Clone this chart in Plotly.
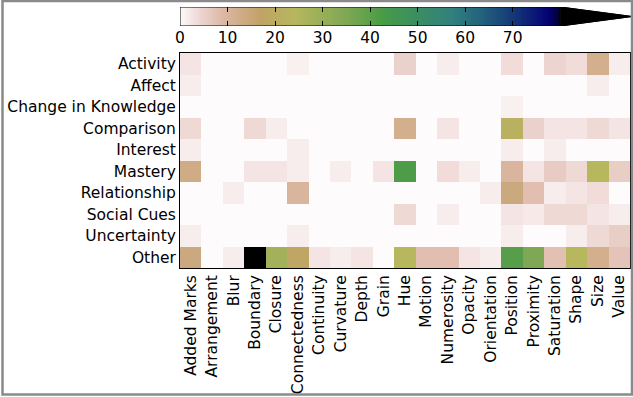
import numpy as np
import plotly.graph_objects as go

# ---------------- data ----------------
rows = ["Activity", "Affect", "Change in Knowledge", "Comparison", "Interest",
        "Mastery", "Relationship", "Social Cues", "Uncertainty", "Other"]
cols = ["Added Marks", "Arrangement", "Blur", "Boundary", "Closure", "Connectedness",
        "Continuity", "Curvature", "Depth", "Grain", "Hue", "Motion", "Numerosity",
        "Opacity", "Orientation", "Position", "Proximity", "Saturation", "Shape",
        "Size", "Value"]

activity      = [2.5, 0, 0, 0, 0, 1.2, 0, 0, 0, 0, 5, 0, 1.5, 0, 0, 3.5, 0, 4.5, 3.5, 12, 1.5]
affect        = [1.5, 0, 0, 0, 0, 0, 0, 0, 0, 0, 0, 0, 0, 0, 0, 0, 0, 0, 0, 1.5, 0]
change_know   = [0, 0, 0, 0, 0, 0, 0, 0, 0, 0, 0, 0, 0, 0, 0, 1.2, 0, 0, 0, 0, 0]
comparison    = [4, 0, 0, 4, 1.5, 0, 0, 0, 0, 0, 12, 0, 2.5, 0, 0, 22, 5, 2.5, 2.5, 4, 2.5]
interest      = [1.5, 0, 0, 0, 0, 1.5, 0, 0, 0, 0, 0, 0, 0, 0, 0, 1.5, 0, 1.5, 0, 0, 0]
mastery       = [13, 0, 0, 2.5, 2.5, 1.5, 0, 1.5, 0, 2.5, 42, 0, 3.5, 1.5, 0, 10, 2.5, 6, 4, 24, 5.5]
relationship  = [0, 0, 1.5, 0, 0, 10, 0, 0, 0, 0, 0, 0, 0, 0, 1.5, 14, 8, 1.5, 2.5, 3.5, 0]
social_cues   = [0, 0, 0, 0, 0, 0, 0, 0, 0, 0, 4, 0, 1.5, 0, 0, 2.5, 2, 4, 4, 2.5, 1.5]
uncertainty   = [1.5, 0, 0, 0, 0, 1.5, 0, 0, 0, 0, 0, 0, 0, 0, 0, 1.5, 0, 0, 1.5, 4, 5.5]
other         = [14, 0, 1.5, 88, 28, 18, 2.5, 1.5, 2.5, 0, 24, 8, 8, 2.5, 1.5, 41, 35, 7.5, 24, 12, 7]

cbar_ticks = [0, 10, 20, 30, 40, 50, 60, 70]
VMIN, VMAX = 0, 80

z = [activity, affect, change_know, comparison, interest,
     mastery, relationship, social_cues, uncertainty, other]

# ---------------- colormap (gist_earth reversed) ----------------
_seg = {
    'r': [(0.0, 0.0), (0.2824, 0.1882), (0.4588, 0.2714), (0.5490, 0.4719),
          (0.6980, 0.7176), (0.7882, 0.7553), (1.0, 0.9922)],
    'g': [(0.0, 0.0), (0.0275, 0.0), (0.1098, 0.1893), (0.1647, 0.3035),
          (0.2078, 0.3841), (0.2824, 0.5020), (0.5216, 0.6397), (0.6980, 0.7171),
          (0.7882, 0.6392), (0.7922, 0.6413), (0.8000, 0.6447), (0.8078, 0.6481),
          (0.8157, 0.6549), (0.8667, 0.6991), (0.8745, 0.7103), (0.8824, 0.7216),
          (0.8902, 0.7323), (0.8980, 0.7430), (0.9412, 0.8275), (0.9569, 0.8635),
          (0.9647, 0.8816), (0.9961, 0.9733), (1.0, 0.9843)],
    'b': [(0.0, 0.0), (0.0039, 0.1684), (0.0078, 0.2212), (0.0275, 0.4329),
          (0.0314, 0.4549), (0.2824, 0.5004), (0.4667, 0.2748), (0.5451, 0.3205),
          (0.7843, 0.3961), (0.8941, 0.6651), (1.0, 0.9843)],
}


def cmap(t):
    s = 1.0 - t
    out = []
    for k in 'rgb':
        xs, ys = zip(*_seg[k])
        out.append(int(round(255 * float(np.interp(s, xs, ys)))))
    return "rgb(%d,%d,%d)" % tuple(out)


N = 256
colorscale = [[i / (N - 1), cmap(i / (N - 1))] for i in range(N)]

FONT = "DejaVu Sans"
FS = 15.5
W, H = 633, 397


def px(x):
    return x / W


def py(y):
    return 1 - y / H


fig = go.Figure()

# main heatmap
fig.add_trace(go.Heatmap(
    z=z, x=list(range(len(cols))), y=list(range(len(rows))),
    zmin=VMIN, zmax=VMAX, colorscale=colorscale, showscale=False,
    hoverinfo="skip", xaxis="x", yaxis="y"))

# colorbar body
EXT = 15.1  # length of the extension triangle in colorbar units
cb_vals = np.linspace(VMIN, VMAX, 401)
fig.add_trace(go.Heatmap(
    z=[cb_vals], x=cb_vals, y=[0.5], zmin=VMIN, zmax=VMAX,
    colorscale=colorscale, showscale=False, hoverinfo="skip",
    xaxis="x2", yaxis="y2"))
# extension triangle
fig.add_trace(go.Scatter(
    x=[VMAX, VMAX + EXT, VMAX, VMAX], y=[0, 0.5, 1, 0], mode="lines",
    fill="toself", fillcolor=cmap(1.0), line=dict(color="black", width=1),
    hoverinfo="skip", showlegend=False, xaxis="x2", yaxis="y2"))
# outline
fig.add_trace(go.Scatter(
    x=[VMIN, VMAX, VMAX + EXT, VMAX, VMIN, VMIN], y=[0, 0, 0.5, 1, 1, 0],
    mode="lines", line=dict(color="black", width=1),
    hoverinfo="skip", showlegend=False, xaxis="x2", yaxis="y2"))

fig.update_layout(
    width=W, height=H, margin=dict(l=0, r=0, t=0, b=0),
    paper_bgcolor="white", plot_bgcolor="white", showlegend=False,
    font=dict(family=FONT, size=FS, color="black"),
    xaxis=dict(domain=[px(180), px(630)], range=[-0.5, len(cols) - 0.5],
               tickvals=list(range(len(cols))), ticktext=cols, tickangle=-90,
               ticks="", showgrid=False, zeroline=False, showline=True,
               mirror=True, linecolor="black", linewidth=1, automargin=False,
               tickfont=dict(family=FONT, size=FS)),
    yaxis=dict(domain=[py(268), py(53)], range=[len(rows) - 0.5, -0.5],
               tickvals=list(range(len(rows))), ticktext=rows,
               ticks="", showgrid=False, zeroline=False, showline=True,
               mirror=True, linecolor="black", linewidth=1, automargin=False,
               tickfont=dict(family=FONT, size=FS)),
    xaxis2=dict(domain=[px(180), px(632)], range=[VMIN, VMAX + EXT],
                tickvals=cbar_ticks, ticktext=[str(v) for v in cbar_ticks],
                ticks="inside", ticklen=5, tickcolor="black", mirror="ticks",
                showline=False, showgrid=False, zeroline=False,
                anchor="y2", automargin=False, tickfont=dict(family=FONT, size=FS)),
    yaxis2=dict(domain=[py(26), py(7)], range=[0, 1], visible=False,
                anchor="x2", fixedrange=True),
    shapes=[dict(type="rect", xref="paper", yref="paper",
                 x0=px(2.5), x1=px(632), y0=py(394.5), y1=py(1),
                 line=dict(color="#8a8a8a", width=2.5), fillcolor="rgba(0,0,0,0)")],
)

fig.write_html("out.html", config={"displayModeBar": False},
               post_script="document.body.style.margin='0';document.body.style.padding='0';")
